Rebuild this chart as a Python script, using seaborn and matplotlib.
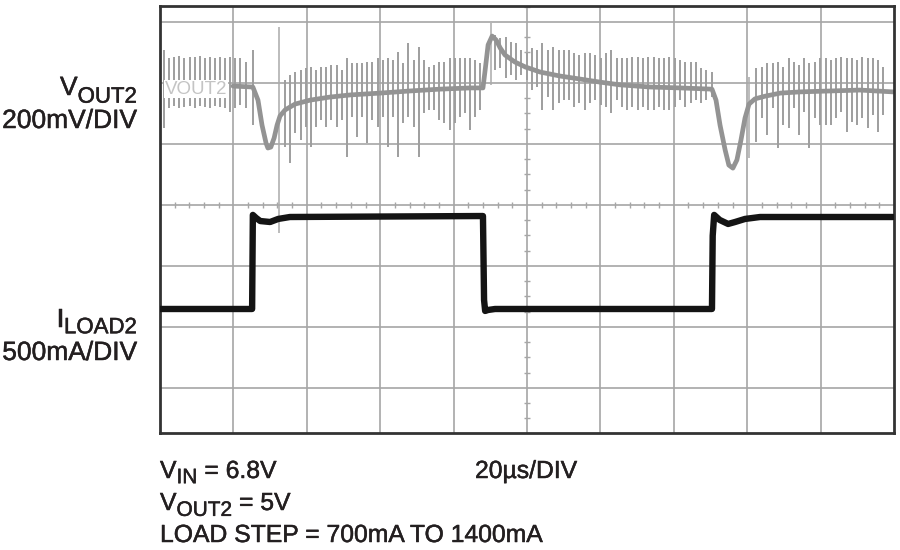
import numpy as np
import pandas as pd
import matplotlib
matplotlib.use('Agg')
import matplotlib.pyplot as plt
import matplotlib.patheffects as pe
import seaborn as sns

# scope settings: 20us/DIV, VOUT2 200mV/DIV (AC), ILOAD2 500mA/DIV
T_DIV = 20.0
V_DIV = 200.0
I_DIV = 500.0
VOUT_POS = 5.934      # graticule position of VOUT2 reference level (div)
ILOAD_ZERO = 0.895    # graticule position of 0 mA (div)

# VOUT2 deviation trace (us, mV)
VOUT_T = [19.9, 25.3, 26.7, 27.8, 28.9, 29.4, 30.2, 31.1, 31.9, 32.7, 34.1, 36.8,
          40.9, 46.3, 51.8, 59.9, 68.1, 76.3, 84.5, 88.0, 88.6, 89.4, 90.5, 91.6,
          92.7, 94.0, 96.7, 99.5, 103.6, 109.0, 114.5, 119.9, 125.4, 133.5, 141.7,
          150.4, 151.5, 152.6, 154.0, 155.0, 156.1, 157.2, 158.3, 159.4, 160.5,
          162.1, 164.9, 169.0, 174.4, 182.6, 190.7, 199.7]
VOUT_MV = [3, 0, -43, -125, -184, -200, -197, -167, -125, -95, -75, -56,
           -43, -33, -26, -20, -13, -7, -3, -3, 56, 138, 167, 154,
           128, 105, 82, 66, 49, 36, 26, 16, 7, 0, -3,
           -7, -43, -125, -207, -256, -266, -239, -174, -102, -56,
           -39, -30, -20, -16, -13, -10, -16]

# ILOAD2 trace (us, mA)
ILOAD_T = [0, 25.1, 25.3, 26.2, 27.3, 30.0, 32.2, 35.4, 88.0, 88.3, 88.6, 89.4,
           91.3, 150.4, 150.6, 151.0, 152.5, 154.8, 156.7, 159.4, 163.5, 199.7]
ILOAD_MA = [700, 700, 1471, 1446, 1421, 1413, 1438, 1454, 1462, 774, 684, 692,
            700, 700, 1300, 1471, 1430, 1397, 1413, 1438, 1454, 1454]

# switching spikes on VOUT2: time (us), top and bottom (mV)
SPK_A_T = [1.1, 2.5, 3.8, 5.2, 6.5, 8.2, 9.5, 10.9, 12.3, 13.6, 15.0, 16.4, 17.7,
           19.1, 20.4, 21.8, 23.4, 25.3]
SPK_A_TOP = [121, 95, 98, 102, 95, 98, 98, 102, 95, 98, 95, 98, 95, 98, 95, 95, 82, 121]
SPK_A_BOT = [-134, -69, -62, -69, -66, -62, -69, -62, -66, -69, -62, -66, -69, -82,
             -69, -59, -69, -125]

SPK_D_T = [34.1, 35.5, 36.9, 38.3, 39.7, 41.1, 42.5, 43.9, 45.3, 46.7, 48.1, 49.5,
           50.9, 52.3, 53.7, 55.1, 56.5, 57.9, 59.3, 60.7, 62.1, 63.5, 64.9, 66.3,
           67.7, 69.1, 70.5, 71.9, 73.3, 74.7, 76.1, 77.5, 78.9, 80.3, 81.7, 83.1,
           84.5, 85.9, 87.3]
SPK_D_TOP = [23, 39, 49, 56, 62, 66, 56, 66, 66, 72, 72, 56, 95, 79, 79, 79, 82, 82,
             95, 89, 95, 89, 115, 79, 144, 89, 131, 89, 66, 72, 82, 82, 95, 95, 95,
             95, 95, 89, 79]
SPK_D_BOT = [-197, -249, -151, -174, -131, -197, -131, -108, -131, -108, -131, -108,
             -230, -98, -164, -98, -184, -108, -131, -98, -197, -98, -230, -118, -98,
             -131, -230, -85, -75, -75, -108, -118, -141, -118, -98, -85, -141, -98, -75]

SPK_E_T = [91.3, 92.7, 94.2, 95.6, 97.0, 98.5, 99.9, 101.4, 102.8, 104.2, 105.7,
           107.1, 108.6, 110.0, 111.4, 112.9, 114.3, 115.8, 117.2, 118.6, 120.1,
           121.5, 123.0, 124.4, 125.8, 127.3, 128.7, 130.2, 131.6, 133.0, 134.5,
           135.9, 137.4, 138.8, 140.2, 141.7, 143.1, 144.6, 146.0, 147.4, 148.9, 150.4]
SPK_E_TOP = [171, 161, 164, 148, 144, 121, 111, 128, 121, 144, 121, 131, 121, 121,
             121, 111, 105, 111, 111, 105, 95, 111, 121, 95, 95, 95, 98, 98, 95, 98,
             98, 95, 95, 98, 95, 89, 82, 82, 82, 62, 56, 49]
SPK_E_BOT = [56, 62, 30, 39, 23, 39, 23, -10, 0, -75, -33, -75, -52, -43, -43, -66,
             -52, -75, -52, -43, -59, -66, -85, -43, -66, -75, -66, -75, -66, -75,
             -75, -66, -75, -75, -66, -43, -66, -52, -43, -52, -43, -33]

SPK_G_T = [162.4, 164.0, 165.4, 167.0, 168.4, 169.8, 171.4, 172.8, 174.1, 175.5,
           176.9, 178.5, 179.9, 181.5, 182.8, 184.2, 185.6, 187.2, 188.6, 189.9,
           191.3, 192.9, 194.3, 195.7, 197.0]
SPK_G_TOP = [62, 66, 79, 79, 82, 66, 95, 82, 72, 95, 79, 82, 95, 95, 89, 95, 98, 95,
             95, 89, 98, 95, 95, 89, 66]
SPK_G_BOT = [-180, -102, -157, -69, -200, -125, -134, -69, -157, -82, -200, -102,
             -125, -125, -125, -102, -82, -148, -115, -125, -102, -134, -92, -148, -92]

# long glitches at the load edges
GLITCH_T = [32.4, 90.2, 160.5]
GLITCH_TOP = [197, 210, 33]
GLITCH_BOT = [-479, 5, -233]

TXT = '#231f20'
BOLDEN = [pe.withStroke(linewidth=0.35, foreground=TXT)]


def vdiv(mv):
    return VOUT_POS + np.asarray(mv, dtype=float) / V_DIV


def idiv(ma):
    return ILOAD_ZERO + np.asarray(ma, dtype=float) / I_DIV


sns.set_theme(style='white')
plt.rcParams['font.family'] = ['Liberation Sans', 'DejaVu Sans']

fig = plt.figure(figsize=(9, 5.5), dpi=100)
ax = fig.add_axes([160 / 900, 117 / 550, 734 / 900, 427 / 550])
ax.set_xlim(0, 10 * T_DIV)
ax.set_ylim(0.262, 7.262)
ax.set_xticks([])
ax.set_yticks([])

# graticule
for k in range(1, 10):
    ax.axvline(k * T_DIV, color='#a6a6a6', lw=1.2, zorder=0)
for k in range(1, 8):
    ax.axhline(k, color='#a6a6a6', lw=1.2, zorder=0)
minor_x = [x for x in np.arange(4, 200, 4) if x % 20]
ax.vlines(minor_x, 4 - 0.045, 4 + 0.045, color='#a6a6a6', lw=1.0, zorder=0)
minor_y = [y for y in np.arange(0.5, 7.26, 0.25) if y % 1]
ax.hlines(minor_y, 100 - 0.7, 100 + 0.7, color='#a6a6a6', lw=1.0, zorder=0)
for s in ax.spines.values():
    s.set_color('#333333')
    s.set_linewidth(2)

# switching spikes
spk_t = SPK_A_T + SPK_D_T + SPK_E_T + SPK_G_T
spk_top = SPK_A_TOP + SPK_D_TOP + SPK_E_TOP + SPK_G_TOP
spk_bot = SPK_A_BOT + SPK_D_BOT + SPK_E_BOT + SPK_G_BOT
ax.vlines(spk_t, vdiv(spk_bot), vdiv(spk_top), color='#9e9e9e', lw=1.4, zorder=1)
ax.vlines(GLITCH_T, vdiv(GLITCH_BOT), vdiv(GLITCH_TOP), color='#aaaaaa', lw=1.1, zorder=1)

vout = pd.DataFrame({'t': VOUT_T, 'y': vdiv(VOUT_MV)})
sns.lineplot(data=vout, x='t', y='y', sort=False, estimator=None,
             color='#939393', lw=3.4, ax=ax, zorder=2)

iload = pd.DataFrame({'t': ILOAD_T, 'y': idiv(ILOAD_MA)})
sns.lineplot(data=iload, x='t', y='y', sort=False, estimator=None,
             color='#141414', lw=4.6, ax=ax, zorder=3)
ax.set_xlabel('')
ax.set_ylabel('')

ax.text(1.4, 5.9, 'VOUT2', fontsize=13.5, color='#c4c4c4', va='center', ha='left',
        zorder=4, bbox=dict(facecolor='white', edgecolor='none', pad=0.5))


def rich(x_px, y_px, parts):
    size0 = parts[0][1]
    first = fig.text(x_px / 900, 1 - y_px / 550, parts[0][0], fontsize=size0,
                     color=TXT, va='baseline', ha='left', path_effects=BOLDEN)
    prev = first
    for s, size, drop in parts[1:]:
        prev = ax.annotate(s, xy=(1, 0), xycoords=(prev, first), xytext=(0, -drop),
                           textcoords='offset points', fontsize=size, color=TXT,
                           va='bottom', ha='left', annotation_clip=False,
                           path_effects=BOLDEN)
    return first, prev


def plain(x_px, y_px, s, size, ha='left'):
    fig.text(x_px / 900, 1 - y_px / 550, s, fontsize=size, color=TXT, ha=ha,
             va='baseline', path_effects=BOLDEN)


right_labels = [rich(60, 95, [('V', 19, 0), ('OUT2', 16, 5.5)]),
                rich(60, 327, [('I', 19, 0), ('LOAD2', 16, 4.5)])]
plain(137, 128, '200mV/DIV', 19, ha='right')
plain(137, 360, '500mA/DIV', 19, ha='right')

rich(160, 478, [('V', 17.8, 0), ('IN', 15, 3), (' = 6.8V', 17.8, 0)])
rich(160, 510, [('V', 17.8, 0), ('OUT2', 15, 3.5), (' = 5V', 17.8, 0)])
plain(160, 542, 'LOAD STEP = 700mA TO 1400mA', 17.8)
plain(475, 478, '20µs/DIV', 17.8)

# right-align the subscripted channel labels
fig.canvas.draw()
renderer = fig.canvas.get_renderer()
for first, last in right_labels:
    dx = last.get_window_extent(renderer).x1 - 137
    x0, y0 = first.get_position()
    first.set_position((x0 - dx / 900, y0))

fig.savefig('out.png', dpi=100, facecolor='white')
